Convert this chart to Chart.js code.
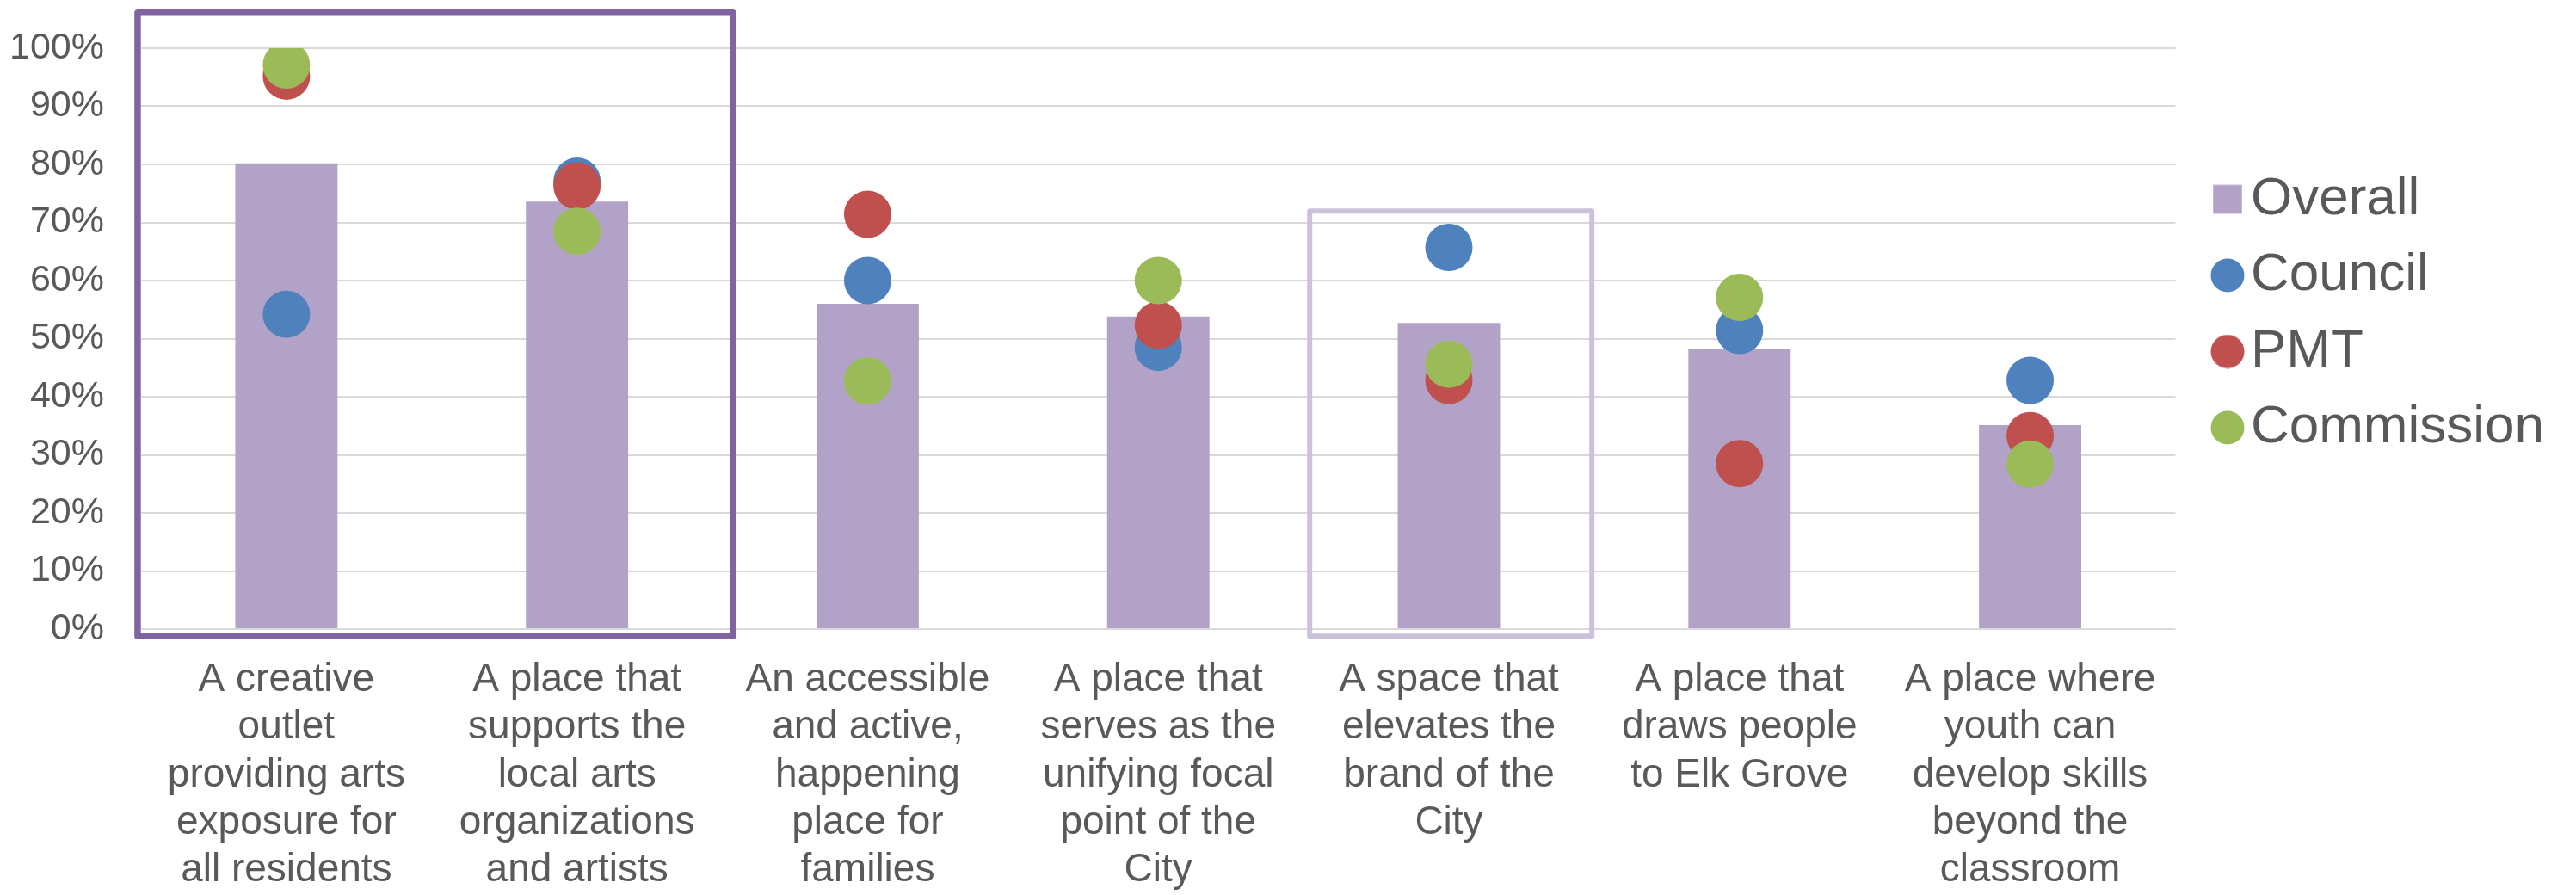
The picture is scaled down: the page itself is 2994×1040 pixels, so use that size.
<!DOCTYPE html>
<html>
<head>
<meta charset="utf-8">
<script src="https://cdn.jsdelivr.net/npm/chart.js@4"></script>
<style>
  html, body { margin: 0; padding: 0; background: #ffffff; }
  #wrap { width: 2994px; height: 1040px; }
</style>
</head>
<body>
<div id="wrap"><canvas id="c" width="2994" height="1040"></canvas></div>
<script>
const categories = [
  ["A creative", "outlet", "providing arts", "exposure for", "all residents"],
  ["A place that", "supports the", "local arts", "organizations", "and artists"],
  ["An accessible", "and active,", "happening", "place for", "families"],
  ["A place that", "serves as the", "unifying focal", "point of the", "City"],
  ["A space that", "elevates the", "brand of the", "City"],
  ["A place that", "draws people", "to Elk Grove"],
  ["A place where", "youth can", "develop skills", "beyond the", "classroom"]
];
const seriesNames = ["Overall", "Council", "PMT", "Commission"];
const overall    = [0.802, 0.736, 0.560, 0.538, 0.527, 0.483, 0.351];
const council    = [0.542, 0.771, 0.600, 0.485, 0.657, 0.514, 0.428];
const pmt        = [0.952, 0.763, 0.714, 0.523, 0.428, 0.285, 0.333];
const commission = [0.971, 0.685, 0.427, 0.600, 0.456, 0.571, 0.284];
const yTicks = [0, 0.1, 0.2, 0.3, 0.4, 0.5, 0.6, 0.7, 0.8, 0.9, 1.0];
// highlight frames: category index range and value range
const highlightFrom   = [-0.512, 3.521];
const highlightTo     = [1.536, 4.492];
const highlightTop    = [1.061, 0.7196];
const highlightBottom = [-0.0123, -0.0123];

const COLORS = ["#B3A2C7", "#4F81BD", "#C0504D", "#9BBB59"];
const FRAME_COLORS = ["#8064A2", "#CCC1DA"];
const FRAME_WIDTHS = [7.5, 6];
const FONT = "'Liberation Sans', Arial, sans-serif";
const TEXT = "#595959";

// legend marker icons (square for bars, circles for points), nudged toward the text
function legendIcon(color, square) {
  const shift = 19;
  const size = 40;
  const c = document.createElement('canvas');
  c.width = size + 2 * shift;
  c.height = size;
  const g = c.getContext('2d');
  g.fillStyle = color;
  const cx = c.width / 2 + shift, cy = size / 2;
  if (square) {
    g.fillRect(cx - 16.75, cy - 16.75, 33.5, 33.5);
  } else {
    g.beginPath();
    g.arc(cx, cy, 19.5, 0, Math.PI * 2);
    g.fill();
  }
  return c;
}
const legendIcons = COLORS.map((col, i) => legendIcon(col, i === 0));

const framePlugin = {
  id: 'frames',
  afterDraw(chart) {
    const x = chart.scales.x, y = chart.scales.y, ctx = chart.ctx;
    const slot = x.getPixelForValue(1) - x.getPixelForValue(0);
    for (let i = 0; i < highlightFrom.length; i++) {
      const x0 = x.getPixelForValue(0) + highlightFrom[i] * slot;
      const x1 = x.getPixelForValue(0) + highlightTo[i] * slot;
      const y0 = y.getPixelForValue(highlightTop[i]);
      const y1 = y.getPixelForValue(highlightBottom[i]);
      ctx.save();
      ctx.strokeStyle = FRAME_COLORS[i];
      ctx.lineWidth = FRAME_WIDTHS[i];
      ctx.lineJoin = 'round';
      ctx.strokeRect(x0, y0, x1 - x0, y1 - y0);
      ctx.restore();
    }
  }
};

const pointDs = (label, data, color, order) => ({
  type: 'line', label, data, order,
  showLine: false,
  backgroundColor: color, borderColor: color,
  pointRadius: 27.5, pointHoverRadius: 27.5,
  pointBorderWidth: 0, pointStyle: 'circle'
});

new Chart(document.getElementById('c'), {
  type: 'bar',
  data: {
    labels: categories,
    datasets: [
      { label: seriesNames[0], data: overall, backgroundColor: COLORS[0], borderWidth: 0,
        barPercentage: 0.352, categoryPercentage: 1.0, order: 4 },
      pointDs(seriesNames[1], council, COLORS[1], 3),
      pointDs(seriesNames[2], pmt, COLORS[2], 2),
      pointDs(seriesNames[3], commission, COLORS[3], 1)
    ]
  },
  options: {
    responsive: false,
    devicePixelRatio: 1,
    animation: false,
    layout: { autoPadding: false, padding: { top: 56, right: 27, bottom: 0, left: 0 } },
    plugins: {
      tooltip: { enabled: false },
      legend: {
        position: 'right',
        align: 'start',
        fullSize: false,
        title: { display: true, text: ' ', font: { size: 10, lineHeight: 1 }, padding: { top: 0, bottom: 108 } },
        labels: {
          usePointStyle: true,
          boxWidth: 30, boxHeight: 30,
          padding: 26.5,
          color: TEXT,
          font: { family: FONT, size: 62 },
          sort: (a, b) => a.datasetIndex - b.datasetIndex,
          generateLabels(chart) {
            const items = Chart.defaults.plugins.legend.labels.generateLabels(chart);
            items.forEach(it => {
              it.pointStyle = legendIcons[it.datasetIndex];
              it.fillStyle = COLORS[it.datasetIndex];
              it.strokeStyle = COLORS[it.datasetIndex];
              it.lineWidth = 0;
            });
            return items;
          }
        }
      }
    },
    scales: {
      x: {
        grid: { display: false, drawTicks: false },
        border: { display: false },
        ticks: {
          color: TEXT, font: { family: FONT, size: 46, lineHeight: 1.2 },
          padding: 32, maxRotation: 0, minRotation: 0, autoSkip: false
        },
        afterFit(scale) { scale.height = 309; }
      },
      y: {
        min: 0, max: 1,
        grid: { color: '#D9D9D9', lineWidth: 2, drawTicks: false },
        border: { display: false },
        afterBuildTicks(scale) { scale.ticks = yTicks.map(v => ({ value: v })); },
        ticks: {
          color: TEXT, font: { family: FONT, size: 43 }, padding: 43,
          callback: v => Math.round(v * 100) + '%'
        },
        afterFit(scale) { scale.width = 164; scale.paddingTop = 0; scale.paddingBottom = 0; }
      }
    }
  },
  plugins: [framePlugin]
});
</script>
</body>
</html>
